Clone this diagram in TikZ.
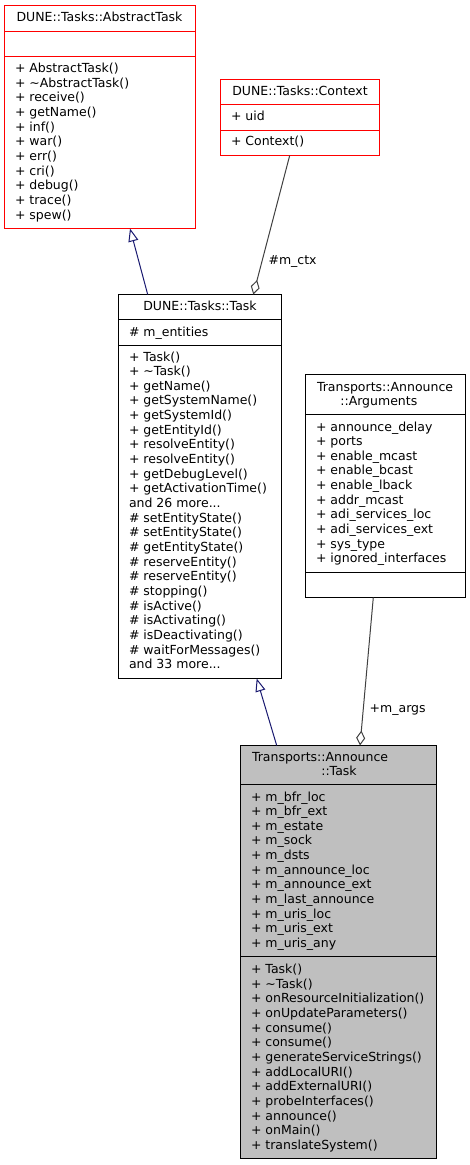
\documentclass[tikz,border=0pt]{standalone}
\usepackage{fontspec}
\setmainfont{DejaVu Sans}
\usetikzlibrary{arrows.meta}
\definecolor{midnight}{HTML}{191970}
\definecolor{edgegray}{HTML}{404040}
\definecolor{boxgray}{HTML}{BFBFBF}

\begin{document}
\begin{tikzpicture}[x=1pt,y=-1pt,line width=1pt,
    font=\fontsize{12.5}{14.65}\selectfont,
    cls/.style={draw,rectangle,anchor=north west,inner sep=0pt,outer sep=0pt},
    title/.style={anchor=base,inner sep=0pt},
    lst/.style={anchor=base west,inner sep=0pt},
    isa/.style={midnight,-{Triangle[open,length=13pt,width=10pt]}},
    has/.style={edgegray,{Diamond[open,length=15pt,width=9pt]}-},
    lbl/.style={anchor=west,inner sep=0pt,xshift=6pt,text=black}]
  \useasboundingbox (0,0) rectangle (469,1165);

  % DUNE::Tasks::AbstractTask
  \node[cls,draw=red,minimum width=191pt,minimum height=223pt] (abstract) at (4.5,5.5) {};
  \draw[red] (abstract.west |- 0,31.5) -- (abstract.east |- 0,31.5)
             (abstract.west |- 0,56.5) -- (abstract.east |- 0,56.5);
  \node[title] (abstractT) at (99.5,21.5) {DUNE::Tasks::AbstractTask};
  \node[lst] (abstractM) at (14.5,72.5) {\begin{tabular}[t]{@{}l@{}}
    + AbstractTask()\\ + \textasciitilde AbstractTask()\\ + receive()\\ + getName()\\
    + inf()\\ + war()\\ + err()\\ + cri()\\ + debug()\\ + trace()\\ + spew()\end{tabular}};

  % DUNE::Tasks::Context
  \node[cls,draw=red,minimum width=159pt,minimum height=76pt] (ctx) at (220.5,79.5) {};
  \draw[red] (ctx.west |- 0,104.5) -- (ctx.east |- 0,104.5)
             (ctx.west |- 0,130) -- (ctx.east |- 0,130);
  \node[title] (ctxT) at (300,95) {DUNE::Tasks::Context};
  \node[lst] (ctxA) at (230.5,120) {+ uid};
  \node[lst] (ctxM) at (230.5,145.5) {+ Context()};

  % DUNE::Tasks::Task
  \node[cls,minimum width=163pt,minimum height=384pt] (task) at (118.5,294.5) {};
  \draw (task.west |- 0,319.5) -- (task.east |- 0,319.5)
        (task.west |- 0,345.5) -- (task.east |- 0,345.5);
  \node[title] (taskT) at (200,310.5) {DUNE::Tasks::Task};
  \node[lst] (taskA) at (128.5,336) {\# m\_entities};
  \node[lst] (taskM) at (128.5,361) {\begin{tabular}[t]{@{}l@{}}
    + Task()\\ + \textasciitilde Task()\\ + getName()\\ + getSystemName()\\ + getSystemId()\\
    + getEntityId()\\ + resolveEntity()\\ + resolveEntity()\\ + getDebugLevel()\\
    + getActivationTime()\\ and 26 more...\\ \# setEntityState()\\ \# setEntityState()\\
    \# getEntityState()\\ \# reserveEntity()\\ \# reserveEntity()\\ \# stopping()\\
    \# isActive()\\ \# isActivating()\\ \# isDeactivating()\\ \# waitForMessages()\\
    and 33 more...\end{tabular}};

  % Transports::Announce::Arguments
  \node[cls,minimum width=160pt,minimum height=223pt] (args) at (305.5,374.5) {};
  \draw (args.west |- 0,414.5) -- (args.east |- 0,414.5)
        (args.west |- 0,572.5) -- (args.east |- 0,572.5);
  \node[lst] (argsT) at (316.5,391) {Transports::Announce};
  \node[title] (argsT2) at (378.8,405.7) {::Arguments};
  \node[lst] (argsA) at (315.5,431) {\begin{tabular}[t]{@{}l@{}}
    + announce\_delay\\ + ports\\ + enable\_mcast\\ + enable\_bcast\\ + enable\_lback\\
    + addr\_mcast\\ + adi\_services\_loc\\ + adi\_services\_ext\\ + sys\_type\\
    + ignored\_interfaces\end{tabular}};

  % Transports::Announce::Task
  \node[cls,fill=boxgray,minimum width=196pt,minimum height=413pt] (ann) at (240.5,745.5) {};
  \draw (ann.west |- 0,784.5) -- (ann.east |- 0,784.5)
        (ann.west |- 0,956.5) -- (ann.east |- 0,956.5);
  \node[lst] (annT) at (251.5,761) {Transports::Announce};
  \node[title] (annT2) at (339,775.6) {::Task};
  \node[lst] (annA) at (250.5,801) {\begin{tabular}[t]{@{}l@{}}
    + m\_bfr\_loc\\ + m\_bfr\_ext\\ + m\_estate\\ + m\_sock\\ + m\_dsts\\
    + m\_announce\_loc\\ + m\_announce\_ext\\ + m\_last\_announce\\ + m\_uris\_loc\\
    + m\_uris\_ext\\ + m\_uris\_any\end{tabular}};
  \node[lst] (annM) at (250.5,973.5) {\begin{tabular}[t]{@{}l@{}}
    + Task()\\ + \textasciitilde Task()\\ + onResourceInitialization()\\
    + onUpdateParameters()\\ + consume()\\ + consume()\\ + generateServiceStrings()\\
    + addLocalURI()\\ + addExternalURI()\\ + probeInterfaces()\\ + announce()\\
    + onMain()\\ + translateSystem()\end{tabular}};

  % inheritance and aggregation
  \draw[isa] ([xshift=29.2pt]task.north west) -- ([xshift=125.5pt]abstract.south west);
  \draw[isa] ([xshift=36.2pt]ann.north west) -- ([xshift=138.2pt]task.south west);
  \draw[has] ([xshift=134.8pt]task.north west) -- node[lbl,pos=0.24] (ctxL) {\#m\_ctx}
             ([xshift=69.2pt]ctx.south west);
  \draw[has] ([xshift=119.5pt]ann.north west) -- node[lbl,pos=0.24] (argsL) {+m\_args}
             ([xshift=67.8pt]args.south west);
\end{tikzpicture}
\end{document}
